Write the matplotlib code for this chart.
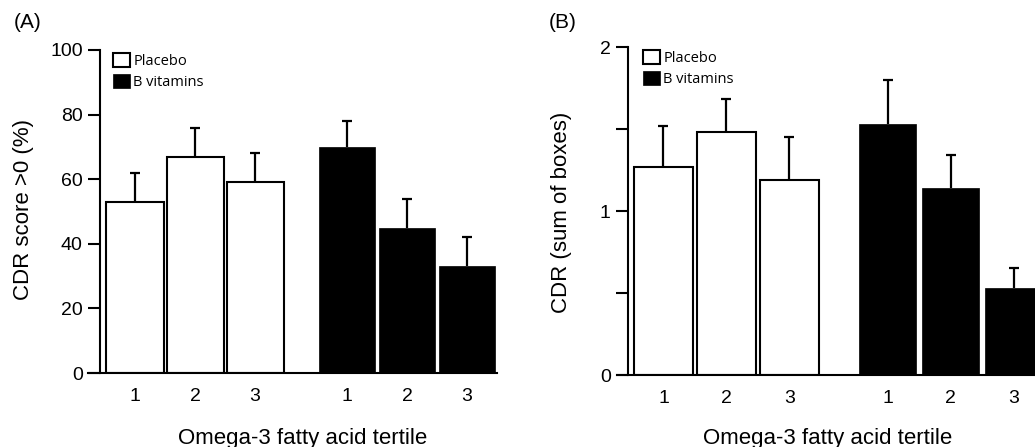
import matplotlib.pyplot as plt
import numpy as np

plt.rcParams['font.family'] = ['Liberation Sans', 'DejaVu Sans']

# panel A: CDR score > 0 (%)
a_placebo = [53, 67, 59]
a_placebo_err = [9, 9, 9]
a_bvit = [70, 45, 33]
a_bvit_err = [8, 9, 9]

# panel B: CDR sum of boxes
b_placebo = [1.27, 1.48, 1.19]
b_placebo_err = [0.25, 0.20, 0.26]
b_bvit = [1.53, 1.14, 0.53]
b_bvit_err = [0.27, 0.20, 0.12]

tertiles = ['1', '2', '3']
legend_labels = ['Placebo', 'B vitamins']

W, H = 1035, 447
fig = plt.figure(figsize=(W / 100, H / 100), dpi=100)


def px(x0, y0, x1, y1):
    return [x0 / W, 1 - y1 / H, (x1 - x0) / W, (y1 - y0) / H]


def panel(ax, pl, pl_err, bv, bv_err, gap, width, spine_pos, xlim):
    pos_p = np.arange(3)
    pos_b = np.arange(3) + 3 + gap
    ekw = dict(lw=1.6, capthick=1.6)
    h1 = ax.bar(pos_p, pl, width, color='white', edgecolor='black', lw=1.5,
                yerr=[np.zeros(3), pl_err], capsize=3.5, error_kw=ekw, zorder=2)
    h2 = ax.bar(pos_b, bv, width * 0.97, color='black', edgecolor='black', lw=0.5,
                yerr=[np.zeros(3), bv_err], capsize=3.5, error_kw=ekw, zorder=2)
    # only the upper half of each error bar has a cap
    for h in (h1, h2):
        caps = h.errorbar.lines[1]
        if len(caps) > 1:
            caps[0].set_visible(False)
    ax.set_xlim(*xlim)
    ax.set_xticks(np.concatenate([pos_p, pos_b]))
    ax.set_xticklabels(tertiles * 2)
    ax.tick_params(axis='x', length=0, pad=11, labelsize=14)
    ax.tick_params(axis='y', length=8.5, width=1.5, pad=4, labelsize=14)
    for s in ['top', 'right']:
        ax.spines[s].set_visible(False)
    ax.spines['left'].set_position(('axes', spine_pos))
    ax.spines['left'].set_linewidth(1.5)
    ax.spines['bottom'].set_linewidth(1.5)
    return h1, h2


axA = fig.add_axes(px(88, 50, 497, 373))
hA = panel(axA, a_placebo, a_placebo_err, a_bvit, a_bvit_err,
           0.53, 0.95, 12 / 409, (-0.783, 6.03))
axA.set_ylim(0, 100)
axA.set_yticks([0, 20, 40, 60, 80, 100])

axB = fig.add_axes(px(617, 47, 1035, 375))
hB = panel(axB, b_placebo, b_placebo_err, b_bvit, b_bvit_err,
           0.56, 0.94, 11 / 418, (-0.738, 5.897))
axB.set_ylim(0, 2)
axB.set_yticks([0, 0.5, 1, 1.5, 2])
axB.set_yticklabels(['0', '', '1', '', '2'])

for ax, h, (lx, ly) in [(axA, hA, (113, 53)), (axB, hB, (643, 50))]:
    ax.legend(h, legend_labels, loc='upper left',
              bbox_to_anchor=(lx / W, 1 - ly / H), bbox_transform=fig.transFigure,
              frameon=False, borderpad=0, borderaxespad=0,
              handlelength=1.15, handleheight=1.15, handletextpad=0.25,
              labelspacing=0.3, prop={'family': 'Open Sans', 'size': 10.5})

fig.text(14 / W, 1 - 13 / H, '(A)', fontsize=15, ha='left', va='top')
fig.text(549 / W, 1 - 13 / H, '(B)', fontsize=15, ha='left', va='top')
fig.text(24 / W, 1 - 210 / H, 'CDR score >0 (%)', fontsize=16,
         rotation=90, ha='center', va='center')
fig.text(561 / W, 1 - 212 / H, 'CDR (sum of boxes)', fontsize=16,
         rotation=90, ha='center', va='center')
fig.text(303 / W, 1 - 428 / H, 'Omega-3 fatty acid tertile', fontsize=16,
         ha='center', va='top')
fig.text(828 / W, 1 - 428 / H, 'Omega-3 fatty acid tertile', fontsize=16,
         ha='center', va='top')

fig.savefig('out.png', dpi=100)
